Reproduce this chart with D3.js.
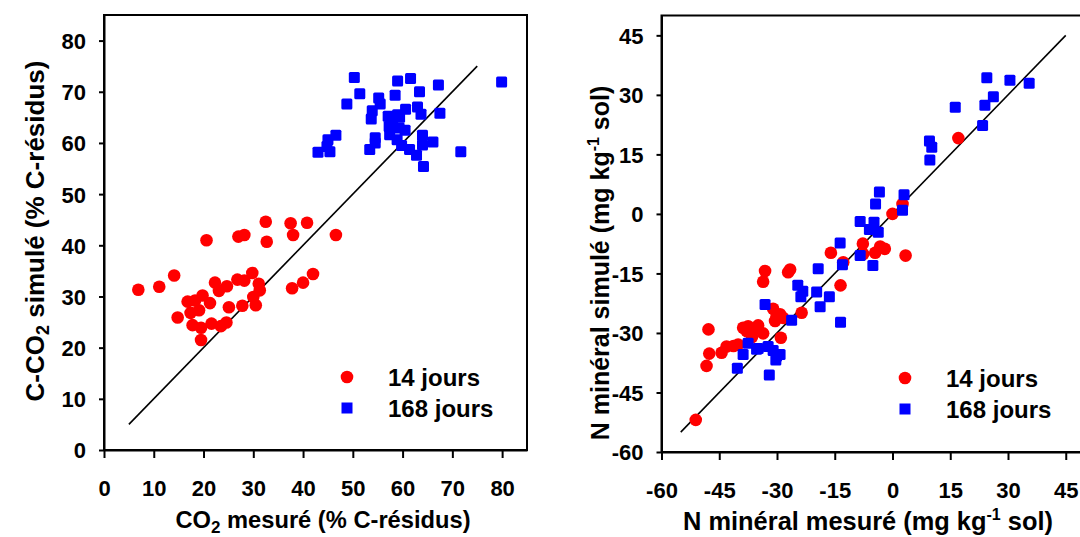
<!DOCTYPE html>
<html>
<head>
<meta charset="utf-8">
<script src="https://cdn.jsdelivr.net/npm/d3@7"></script>
<style>
  html, body { margin: 0; padding: 0; background: #fff; }
  svg { display: block; }
  text { font-family: "Liberation Sans", Arial, sans-serif; font-weight: bold; fill: #000; }
</style>
</head>
<body>
<svg id="chart" width="1080" height="537"></svg>
<script>
// ---------- DATA ----------
// Left panel: C-CO2 (% C-résidus) [measured, simulated]
const co2Ticks = [0, 10, 20, 30, 40, 50, 60, 70, 80];
const co2_14 = [
  [20.6,41.0],[27.0,41.7],[28.2,42.0],[32.5,44.6],[32.7,40.7],[37.5,44.3],[38.0,42.0],[40.8,44.4],[46.6,42.0],
  [6.9,31.3],[11.1,31.9],[14.1,34.1],[14.8,25.9],[16.8,29.0],[18.3,29.2],[19.8,30.2],[17.4,26.8],[19.1,27.3],
  [17.8,24.4],[19.5,23.9],[19.5,21.5],[21.3,28.7],[21.6,24.7],[22.3,32.7],[23.1,31.1],[24.7,32.0],[23.5,24.2],
  [24.6,24.9],[25.1,27.9],[26.8,33.3],[28.2,33.1],[27.8,28.2],[29.8,34.6],[31.1,32.5],[31.3,31.2],[30.0,29.9],
  [30.5,28.3],[37.8,31.6],[40.0,32.7],[42.0,34.4]
];
const co2_168 = [
  [50.3,72.8],[59.0,72.1],[61.6,72.6],[67.2,71.3],[79.9,71.9],[51.4,69.6],[58.5,69.3],[63.4,70.0],[48.8,67.6],
  [55.2,68.8],[55.5,67.6],[53.9,66.3],[53.7,64.7],[60.6,66.6],[63.0,67.0],[63.7,65.6],[67.5,65.8],[57.1,65.2],
  [59.0,65.5],[59.4,65.0],[57.3,63.2],[59.3,62.9],[57.4,61.6],[58.9,60.6],[59.8,59.5],[61.4,58.7],[62.8,57.6],
  [64.2,55.4],[64.0,61.5],[64.0,59.6],[66.1,60.2],[71.7,58.3],[54.5,61.0],[54.5,60.0],[53.4,58.7],[46.6,61.5],
  [45.0,60.6],[44.8,59.3],[45.4,58.3],[43.0,58.2],[58.0,64.3],[60.5,62.5]
];
const co2Line = [[5,5],[75,75]];

// Right panel: N minéral (mg kg-1 sol) [measured, simulated]
const nTicks = [-60, -45, -30, -15, 0, 15, 30, 45];
const n_14 = [
  [-51.1,-51.9],[-47.8,-29.1],[-47.6,-35.2],[-48.3,-38.3],[-44.4,-35.0],[-43.1,-33.4],[-41.3,-33.3],[-40.1,-32.9],
  [-38.8,-28.7],[-37.5,-28.3],[-37.9,-29.5],[-36.0,-29.1],[-34.9,-28.1],[-33.6,-30.1],[-33.1,-14.4],[-33.6,-17.1],
  [-26.6,-14.0],[-27.1,-14.7],[-31.0,-23.9],[-30.5,-27.0],[-29.2,-25.3],[-28.4,-26.2],[-29.0,-31.2],[-23.6,-24.9],
  [-16.0,-9.8],[-13.5,-18.0],[-12.8,-12.2],[-7.7,-7.5],[-7.6,-10.1],[-4.5,-9.8],[-3.2,-8.2],[-2.0,-8.8],
  [3.4,-10.5],[17.1,19.1],[0.0,0.0],[2.6,2.5],[-30.1,-25.8],[-36.5,-31.0]
];
const n_168 = [
  [24.5,34.3],[30.5,33.7],[35.5,32.9],[26.2,29.5],[24.0,27.4],[16.3,26.9],[23.4,22.3],[9.6,18.4],[10.2,16.8],
  [9.7,13.6],[3.0,4.8],[2.6,0.9],[-3.4,5.5],[-4.4,2.5],[-8.4,-1.9],[-4.8,-2.1],[-6.0,-3.9],[-3.7,-4.6],
  [-13.6,-7.3],[-8.4,-10.5],[-13.0,-12.8],[-5.1,-13.0],[-19.3,-13.8],[-24.6,-18.0],[-23.3,-19.5],[-23.8,-20.9],
  [-19.7,-19.7],[-16.4,-20.9],[-18.8,-23.4],[-13.5,-27.3],[-26.2,-26.8],[-33.1,-22.8],[-37.5,-32.6],[-38.8,-35.4],
  [-40.3,-38.9],[-34.9,-33.9],[-32.3,-33.4],[-31.0,-34.4],[-30.1,-35.8],[-29.2,-35.4],[-30.3,-36.8],[-32.0,-40.6],
  [-35.3,-34.1]
];
const nLine = [[-55,-55],[45,45]];

const legendLabels = ["14 jours", "168 jours"];
const colors = ["#ff0000", "#0000ff"];

// ---------- DRAW ----------
const svg = d3.select("#chart");
const fmt = d => String(d); // plain hyphen for negatives

function panel(cfg) {
  const x = d3.scaleLinear().domain(cfg.xDomain).range(cfg.xRange);
  const y = d3.scaleLinear().domain(cfg.yDomain).range(cfg.yRange);
  const g = svg.append("g");

  // frame
  g.append("rect")
    .attr("x", cfg.xRange[0]).attr("y", cfg.yRange[1])
    .attr("width", cfg.xRange[1] - cfg.xRange[0])
    .attr("height", cfg.yRange[0] - cfg.yRange[1])
    .attr("fill", "none").attr("stroke", "#000").attr("stroke-width", 2);

  // axes
  const xAx = g.append("g").attr("transform", `translate(0,${cfg.yRange[0]})`)
    .call(d3.axisBottom(x).tickValues(cfg.ticks).tickSizeOuter(0).tickSizeInner(8).tickPadding(22)
      .tickFormat(fmt));
  const yAx = g.append("g").attr("transform", `translate(${cfg.xRange[0]},0)`)
    .call(d3.axisLeft(y).tickValues(cfg.ticks).tickSizeOuter(0).tickSizeInner(5).tickPadding(13)
      .tickFormat(fmt));
  [xAx, yAx].forEach(a => {
    a.select(".domain").attr("stroke", "#000").attr("stroke-width", 2);
    a.selectAll(".tick line").attr("stroke", "#000").attr("stroke-width", 2);
    a.selectAll(".tick text").attr("font-size", 22).attr("font-family", "Liberation Sans, Arial, sans-serif")
      .attr("font-weight", "bold").attr("fill", "#000");
  });
  xAx.selectAll(".tick text").attr("dy", "0.71em");
  yAx.selectAll(".tick text").attr("dy", "0.36em");

  // 1:1 line
  g.append("line")
    .attr("x1", x(cfg.line[0][0])).attr("y1", y(cfg.line[0][1]))
    .attr("x2", x(cfg.line[1][0])).attr("y2", y(cfg.line[1][1]))
    .attr("stroke", "#000").attr("stroke-width", 1.6);

  // points
  g.append("g").selectAll("circle").data(cfg.s14).join("circle")
    .attr("cx", d => x(d[0])).attr("cy", d => y(d[1])).attr("r", 6.3).attr("fill", colors[0]);
  const sq = 11;
  g.append("g").selectAll("rect").data(cfg.s168).join("rect")
    .attr("x", d => x(d[0]) - sq / 2).attr("y", d => y(d[1]) - sq / 2)
    .attr("width", sq).attr("height", sq).attr("rx", 1.5).attr("fill", colors[1]);

  // legend
  const L = cfg.legend;
  g.append("circle").attr("cx", L.x).attr("cy", L.y).attr("r", 6.3).attr("fill", colors[0]);
  g.append("rect").attr("x", L.x - 5.5).attr("y", L.y + 31 - 5.5).attr("width", 11).attr("height", 11).attr("fill", colors[1]);
  g.append("text").attr("x", L.x + 41).attr("y", L.y + 9).attr("font-size", 24).text(legendLabels[0]);
  g.append("text").attr("x", L.x + 41).attr("y", L.y + 40).attr("font-size", 24).text(legendLabels[1]);
  return {x, y, g};
}

panel({
  xDomain: [0, 85], xRange: [104, 527],
  yDomain: [0, 85], yRange: [450, 15],
  ticks: co2Ticks, line: co2Line, s14: co2_14, s168: co2_168,
  legend: {x: 347, y: 377}
});
panel({
  xDomain: [-60, 50], xRange: [661.5, 1085],
  yDomain: [-60, 50], yRange: [452, 15.5],
  ticks: nTicks, line: nLine, s14: n_14, s168: n_168,
  legend: {x: 905, y: 378}
});

// axis titles
const t1 = svg.append("text").attr("x", 323).attr("y", 528).attr("text-anchor", "middle").attr("font-size", 23.7);
t1.append("tspan").text("CO");
t1.append("tspan").attr("font-size", 17).attr("dy", 5).text("2");
t1.append("tspan").attr("dy", -5).text(" mesuré (% C-résidus)");

const t2 = svg.append("text").attr("transform", "translate(44,231) rotate(-90)").attr("text-anchor", "middle").attr("font-size", 26);
t2.append("tspan").text("C-CO");
t2.append("tspan").attr("font-size", 18).attr("dy", 5).text("2");
t2.append("tspan").attr("dy", -5).text(" simulé (% C-résidus)");

const t3 = svg.append("text").attr("x", 868).attr("y", 530).attr("text-anchor", "middle").attr("font-size", 25.4);
t3.append("tspan").text("N minéral mesuré (mg kg");
t3.append("tspan").attr("font-size", 16).attr("dy", -10).text("-1");
t3.append("tspan").attr("dy", 10).text(" sol)");

const t4 = svg.append("text").attr("transform", "translate(609,263) rotate(-90)").attr("text-anchor", "middle").attr("font-size", 25);
t4.append("tspan").text("N minéral simulé (mg kg");
t4.append("tspan").attr("font-size", 16).attr("dy", -10).text("-1");
t4.append("tspan").attr("dy", 10).text(" sol)");
</script>
</body>
</html>
